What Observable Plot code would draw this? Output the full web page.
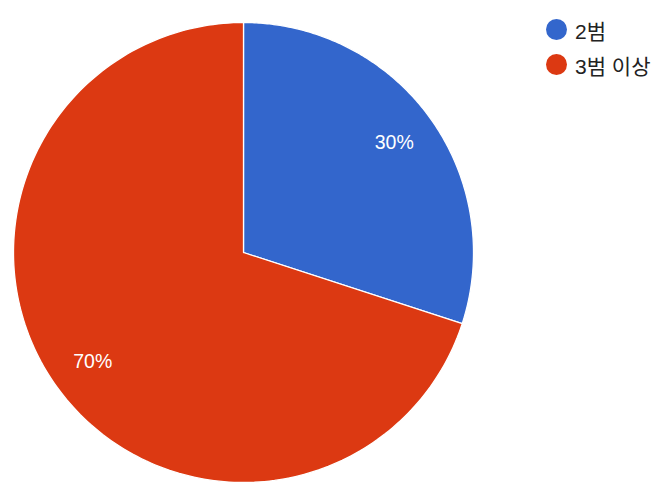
<!DOCTYPE html>
<html>
<head>
<meta charset="utf-8">
<script src="https://cdn.jsdelivr.net/npm/d3@7"></script>
<script src="https://cdn.jsdelivr.net/npm/@observablehq/plot@0.6"></script>
<style>
  body { margin: 0; background: #fff; }
  #wrap { position: relative; width: 665px; height: 496px; font-family: Arial, "Liberation Sans", "Noto Sans CJK KR", sans-serif; }
  #legend { position: absolute; left: 546px; top: 12px; }
  .item { display: flex; align-items: center; height: 35px; font-size: 21px; color: #222; }
  .sw { width: 21px; height: 21px; border-radius: 50%; margin-right: 8px; }
</style>
</head>
<body>
<div id="wrap"></div>
<script>
const categories = ["2범", "3범 이상"];
const values = [30, 70];
const colors = ["#3366cc", "#dc3912"];
const labels = ["30%", "70%"];

const pie = d3.pie().sort(null).value(d => d.value)(categories.map((c, i) => ({cat: c, value: values[i]})));

const polys = [];
const labelPts = [];
pie.forEach((p, i) => {
  const cat = p.data.cat;
  polys.push({cat, x: 0, y: 0});
  const n = 200;
  for (let k = 0; k <= n; k++) {
    const a = p.startAngle + (p.endAngle - p.startAngle) * k / n;
    polys.push({cat, x: Math.sin(a), y: Math.cos(a)});
  }
  polys.push({cat, x: 0, y: 0});
  const mid = (p.startAngle + p.endAngle) / 2;
  labelPts.push({cat, label: labels[i], x: 0.81 * Math.sin(mid), y: 0.81 * Math.cos(mid)});
});

const chart = Plot.plot({
  width: 665,
  height: 496,
  marginLeft: 13,
  marginRight: 192,
  marginTop: 22,
  marginBottom: 14,
  x: {domain: [-1, 1], axis: null},
  y: {domain: [-1, 1], axis: null},
  color: {domain: categories, range: colors},
  style: {fontFamily: "Arial, 'Liberation Sans', sans-serif", background: "#fff"},
  marks: [
    Plot.line(polys, {x: "x", y: "y", z: "cat", fill: "cat", stroke: "#fff", strokeWidth: 1.3, curve: "linear"}),
    Plot.text(labelPts, {x: "x", y: "y", text: "label", fill: "#fff", fontSize: 19.5})
  ]
});

const wrap = document.getElementById("wrap");
wrap.appendChild(chart);
const legend = document.createElement("div");
legend.id = "legend";
categories.forEach((c, i) => {
  const it = document.createElement("div");
  it.className = "item";
  const sw = document.createElement("div");
  sw.className = "sw";
  sw.style.background = colors[i];
  const t = document.createElement("span");
  t.textContent = c;
  it.appendChild(sw);
  it.appendChild(t);
  legend.appendChild(it);
});
wrap.appendChild(legend);
</script>
</body>
</html>
